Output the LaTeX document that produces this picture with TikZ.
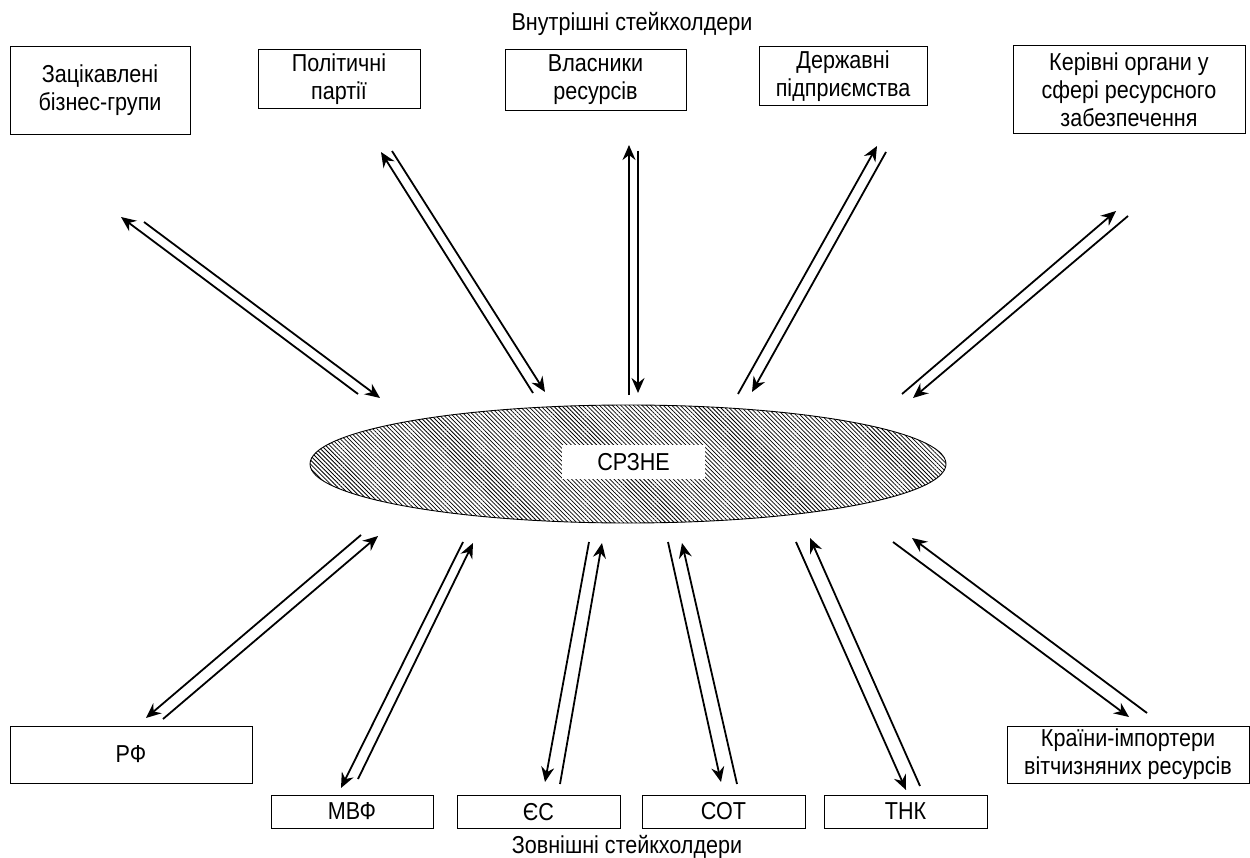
\documentclass[tikz,border=0pt]{standalone}
\usepackage{fontspec}
\setmainfont{Liberation Sans}
\newfontfamily\condfont[FakeStretch=0.88]{Liberation Sans}
\usetikzlibrary{arrows.meta,patterns.meta}
\begin{document}
\begin{tikzpicture}[x=1pt,y=-1pt,
  box/.style={draw,line width=0.9pt,inner sep=0pt,align=center,font=\condfont\fontsize{24.5}{28}\selectfont},
  lbl/.style={font=\condfont\fontsize{24.5}{28}\selectfont},
  arr/.style={line width=1.8pt,-{Stealth[length=15pt,width=13pt,inset=5pt]}}]
\useasboundingbox (0,0) rectangle (1250,858);
% titles
\node[lbl,anchor=base] (tin) at (632,31) {Внутрішні стейкхолдери};
\node[lbl,anchor=base] (tex) at (627,853) {Зовнішні стейкхолдери};
% top boxes
\node[box,minimum width=180pt,minimum height=88pt] (b1) at (100,90) {Зацікавлені\\бізнес-групи};
\node[box,minimum width=162pt,minimum height=59pt] (b2) at (339,79) {Політичні\\партії};
\node[box,minimum width=181pt,minimum height=61pt] (b3) at (595.5,80) {Власники\\ресурсів};
\node[box,minimum width=168pt,minimum height=59pt] (b4) at (843,76) {Державні\\підприємства};
\node[box,minimum width=232pt,minimum height=88pt] (b5) at (1129,89.5) {Керівні органи у\\сфері ресурсного\\забезпечення};
% bottom boxes
\node[box,minimum width=242pt,minimum height=57pt] (c1) at (131,754.5) {РФ};
\node[box,minimum width=162pt,minimum height=33pt] (c2) at (352,811.5) {МВФ};
\node[box,minimum width=163pt,minimum height=33pt] (c3) at (538.5,812) {ЄС};
\node[box,minimum width=163pt,minimum height=33pt] (c4) at (723.5,811.5) {СОТ};
\node[box,minimum width=163pt,minimum height=33pt] (c5) at (905.5,811.5) {ТНК};
\node[box,minimum width=242pt,minimum height=57pt] (c6) at (1128,754.5) {Країни-імпортери\\вітчизняних ресурсів};
% ellipse
\draw[line width=0.9pt,pattern={Lines[angle=-45,distance=3pt,line width=0.75pt]}] (628,464) ellipse [x radius=318, y radius=59];
\node[fill=white,minimum width=143pt,minimum height=34pt,inner sep=0pt,lbl] (core) at (633.5,462) {СРЗНЕ};
% arrow end coordinates
\coordinate (p1a) at (358,394); \coordinate (p1b) at (121,217);
\coordinate (p1c) at (144,222); \coordinate (p1d) at (380,398);
\coordinate (p2a) at (533,393); \coordinate (p2b) at (381,152);
\coordinate (p2c) at (392,151); \coordinate (p2d) at (545,392);
\coordinate (p3a) at (629,395); \coordinate (p3b) at (629,145);
\coordinate (p3c) at (638,151); \coordinate (p3d) at (638,393);
\coordinate (p4a) at (738,394); \coordinate (p4b) at (877,146);
\coordinate (p4c) at (886,152); \coordinate (p4d) at (752,392);
\coordinate (p5a) at (902,394); \coordinate (p5b) at (1116,211);
\coordinate (p5c) at (1128,216); \coordinate (p5d) at (913,398);
\coordinate (q1a) at (163,719); \coordinate (q1b) at (378,536);
\coordinate (q1c) at (361,535); \coordinate (q1d) at (146,718);
\coordinate (q2a) at (358,779); \coordinate (q2b) at (473,543);
\coordinate (q2c) at (463,542); \coordinate (q2d) at (341,788);
\coordinate (q3a) at (560,784); \coordinate (q3b) at (602,543);
\coordinate (q3c) at (589,542); \coordinate (q3d) at (545,782);
\coordinate (q4a) at (737,784); \coordinate (q4b) at (682,543);
\coordinate (q4c) at (668,542); \coordinate (q4d) at (721,782);
\coordinate (q5a) at (920,786); \coordinate (q5b) at (810,538);
\coordinate (q5c) at (796,542); \coordinate (q5d) at (906,790);
\coordinate (q6a) at (1147,713); \coordinate (q6b) at (912,538);
\coordinate (q6c) at (893,542); \coordinate (q6d) at (1129,717);
\foreach \p in {p1,p2,p3,p4,p5,q1,q2,q3,q4,q5,q6}{
  \draw[arr] (\p a) -- (\p b);
  \draw[arr] (\p c) -- (\p d);
}
\end{tikzpicture}
\end{document}
